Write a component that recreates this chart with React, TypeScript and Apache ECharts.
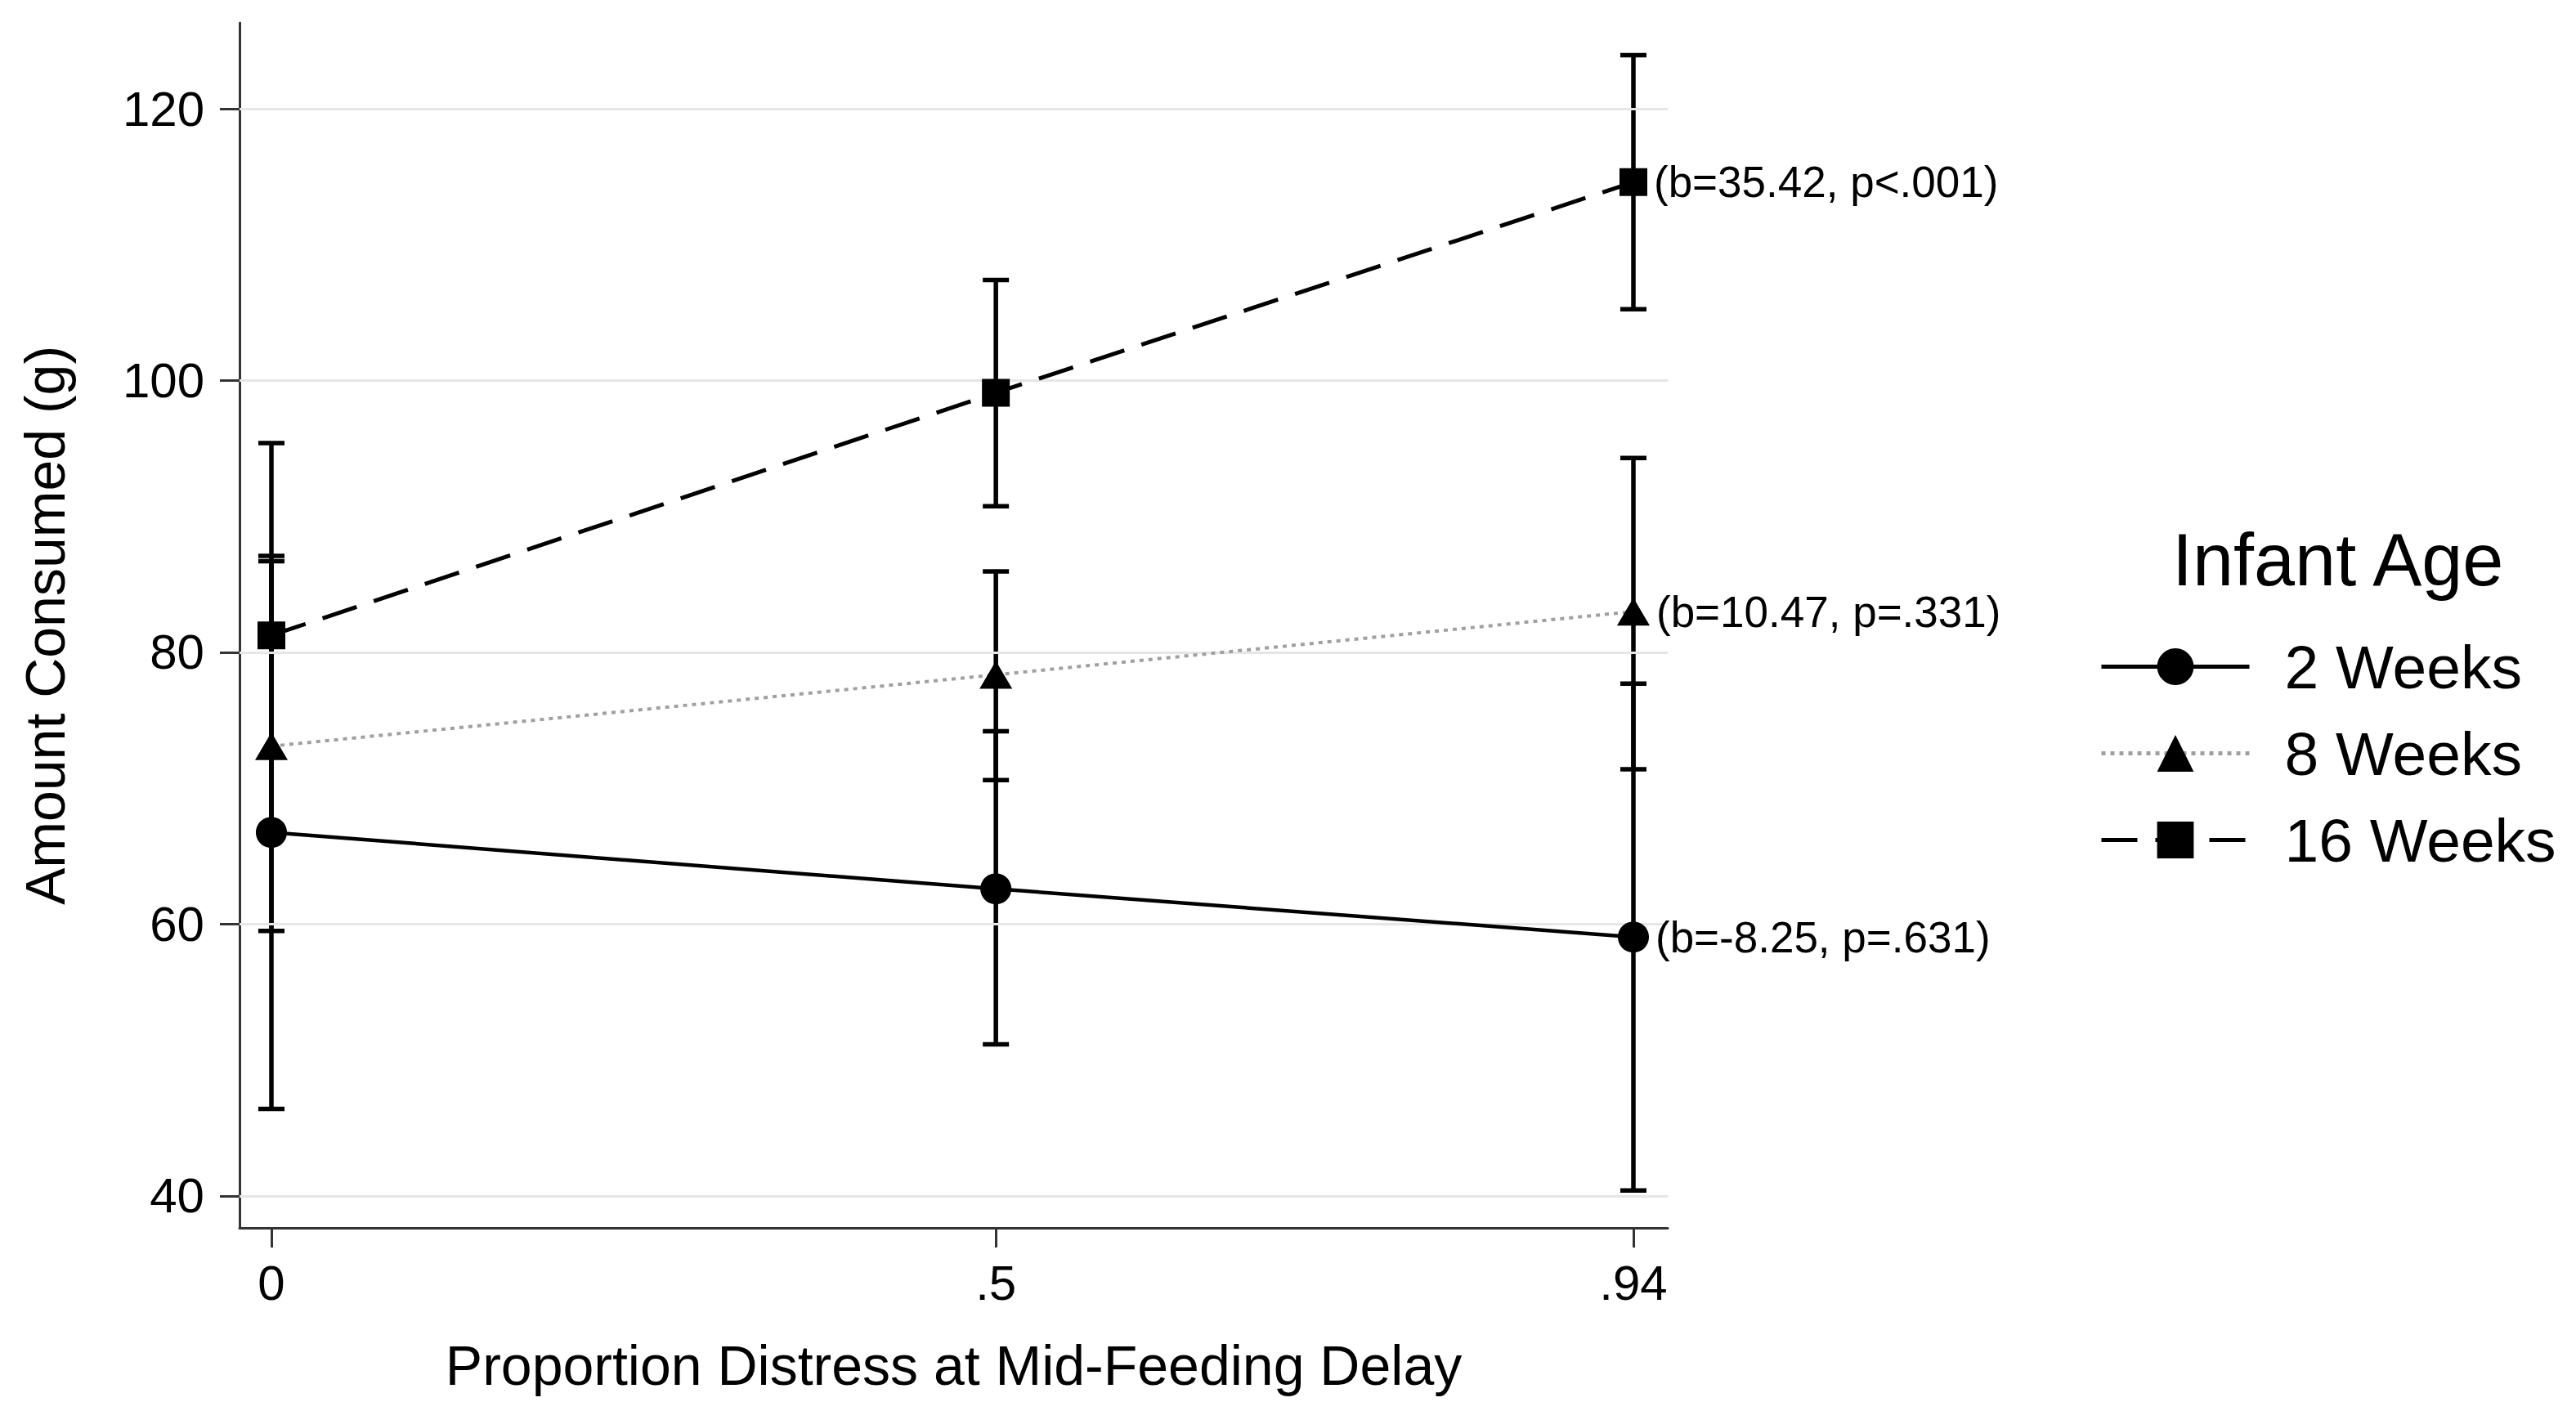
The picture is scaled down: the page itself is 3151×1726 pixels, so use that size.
import React, { useEffect, useRef } from "react";
import * as echarts from "echarts";

const xValues = [0, 0.5, 0.94];
const xTickLabels = ["0", ".5", ".94"];
const yTicks = [40, 60, 80, 100, 120];
const seriesNames = ["2 Weeks", "8 Weeks", "16 Weeks"];

const weeks2Mean = [66.75, 62.6, 59.05];
const weeks2Low = [46.4, 51.15, 40.4];
const weeks2High = [87.1, 74.2, 77.7];

const weeks8Mean = [73.1, 78.35, 83.0];
const weeks8Low = [59.5, 70.6, 71.4];
const weeks8High = [86.7, 85.95, 94.3];

const weeks16Mean = [81.25, 99.1, 114.6];
const weeks16Low = [67.0, 90.75, 105.25];
const weeks16High = [95.4, 107.4, 123.95];

const annotations = ["(b=-8.25, p=.631)", "(b=10.47, p=.331)", "(b=35.42, p<.001)"];

const FONT = "'Liberation Sans', Arial, Helvetica, sans-serif";

function lineData(means: number[], note: string) {
  return xValues.map((x, i) =>
    i === xValues.length - 1
      ? {
          value: [x, means[i]],
          label: {
            show: true,
            position: "right",
            distance: 8,
            formatter: note,
            fontSize: 53,
            color: "#000",
            fontFamily: FONT,
          },
        }
      : [x, means[i]]
  );
}

function errorSeries(name: string, low: number[], high: number[]) {
  return {
    name,
    type: "custom",
    z: 4,
    silent: true,
    data: xValues.map((x, i) => [x, low[i], high[i]]),
    encode: { x: 0, y: [1, 2] },
    renderItem: (_params: any, api: any) => {
      const x = api.value(0);
      const lo = api.value(1);
      const hi = api.value(2);
      const top = api.coord([x, hi]);
      const bot = api.coord([x, lo]);
      const half = 16;
      const style = { stroke: "#000", lineWidth: 5.5 };
      return {
        type: "group",
        children: [
          { type: "line", shape: { x1: top[0], y1: top[1], x2: bot[0], y2: bot[1] }, style },
          { type: "line", shape: { x1: top[0] - half, y1: top[1], x2: top[0] + half, y2: top[1] }, style },
          { type: "line", shape: { x1: bot[0] - half, y1: bot[1], x2: bot[0] + half, y2: bot[1] }, style },
        ],
      };
    },
  };
}

export default function App() {
  const ref = useRef<HTMLDivElement>(null);

  useEffect(() => {
    document.body.style.margin = "0";
    if (!ref.current) return;
    const chart = echarts.init(ref.current, undefined, { renderer: "svg" });
    const option: any = {
      animation: false,
      backgroundColor: "#fff",
      title: {
        text: "Infant Age",
        left: 2657,
        top: 640,
        padding: 0,
        textStyle: { fontSize: 90, fontWeight: "normal", color: "#000", fontFamily: FONT },
      },
      legend: {
        orient: "vertical",
        left: 2568,
        top: 778,
        padding: 0,
        itemWidth: 181,
        itemHeight: 56,
        itemGap: 31,
        selectedMode: false,
        data: seriesNames,
        lineStyle: { width: 5 },
        textStyle: { fontSize: 75, color: "#000", fontFamily: FONT, padding: [0, 0, 0, 38] },
      },
      grid: { left: 293, right: 1111, top: 28, bottom: 224, containLabel: false },
      xAxis: {
        type: "value",
        min: -0.022,
        max: 0.9637,
        name: "Proportion Distress at Mid-Feeding Delay",
        nameLocation: "middle",
        nameGap: 134,
        nameTextStyle: { fontSize: 68, color: "#000", fontFamily: FONT },
        axisLine: { show: true, onZero: false, lineStyle: { color: "#333", width: 3 } },
        axisTick: { show: true, length: 24, customValues: xValues, lineStyle: { color: "#333", width: 3 } },
        axisLabel: {
          customValues: xValues,
          margin: 37,
          fontSize: 60,
          color: "#000",
          fontFamily: FONT,
          formatter: (v: number) => {
            const i = xValues.findIndex((x) => Math.abs(x - v) < 1e-9);
            return i >= 0 ? xTickLabels[i] : "";
          },
        },
        splitLine: { show: false },
      },
      yAxis: {
        type: "value",
        min: 37.65,
        max: 126.32,
        name: "Amount Consumed (g)",
        nameLocation: "middle",
        nameGap: 204,
        nameTextStyle: { fontSize: 68, color: "#000", fontFamily: FONT },
        axisLine: { show: true, onZero: false, lineStyle: { color: "#333", width: 3 } },
        axisTick: { show: true, length: 24, customValues: yTicks, lineStyle: { color: "#333", width: 3 } },
        axisLabel: {
          customValues: yTicks,
          margin: 43,
          fontSize: 60,
          color: "#000",
          fontFamily: FONT,
          formatter: (v: number) => String(Math.round(v)),
        },
        splitLine: { show: false },
      },
      series: [
        {
          name: "grid",
          type: "line",
          data: [],
          z: 1,
          silent: true,
          markLine: {
            silent: true,
            symbol: ["none", "none"],
            label: { show: false },
            lineStyle: { color: "#e6e6e6", width: 3, type: "solid" },
            data: yTicks.map((v) => ({ yAxis: v })),
          },
        },
        errorSeries("2 Weeks CI", weeks2Low, weeks2High),
        errorSeries("8 Weeks CI", weeks8Low, weeks8High),
        errorSeries("16 Weeks CI", weeks16Low, weeks16High),
        {
          name: seriesNames[0],
          type: "line",
          z: 5,
          symbol: "circle",
          symbolSize: 38,
          itemStyle: { color: "#000" },
          lineStyle: { color: "#000", width: 4.5, type: "solid" },
          data: lineData(weeks2Mean, annotations[0]),
        },
        {
          name: seriesNames[1],
          type: "line",
          z: 5,
          symbol: "triangle",
          symbolSize: [40, 34],
          itemStyle: { color: "#000" },
          lineStyle: { color: "#a0a0a0", width: 4, type: [5, 6] },
          data: lineData(weeks8Mean, annotations[1]),
        },
        {
          name: seriesNames[2],
          type: "line",
          z: 5,
          symbol: "rect",
          symbolSize: 34,
          itemStyle: { color: "#000" },
          lineStyle: { color: "#000", width: 5, type: [44, 22] },
          data: lineData(weeks16Mean, annotations[2]),
        },
      ],
    };
    chart.setOption(option);
    return () => chart.dispose();
  }, []);

  return (
    <div
      ref={ref}
      style={{ position: "absolute", left: 0, top: 0, width: 3151, height: 1726, background: "#fff" }}
    />
  );
}
